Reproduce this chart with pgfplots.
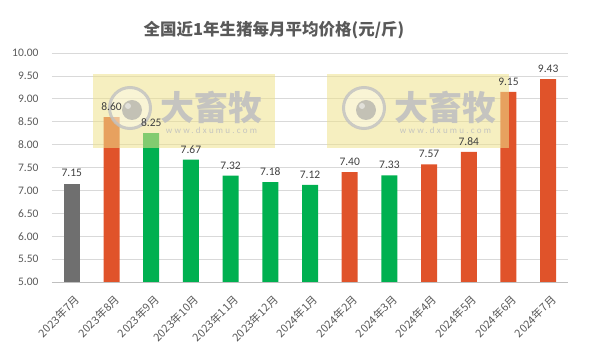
\documentclass[border=0pt]{standalone}
\usepackage{pgfplots}
\pgfplotsset{compat=1.18}
\usepackage{fontspec}
\setmainfont{Carlito}
\newfontfamily\cjk{Noto Sans CJK SC}
\definecolor{cgray}{HTML}{6F6F6F}
\definecolor{corange}{HTML}{E0532A}
\definecolor{cgreen}{HTML}{00B050}
\definecolor{txt}{HTML}{595959}
\definecolor{lbl}{HTML}{404040}
\definecolor{gridc}{HTML}{D9D9D9}
\definecolor{axc}{HTML}{BFBFBF}
\definecolor{wmbox}{RGB}{238,226,140}
\definecolor{wmtxt}{RGB}{192,192,192}
\definecolor{wmdot}{RGB}{160,160,160}
\newcommand{\wm}[2]{%
  \fill[wmbox, fill opacity=0.55] (#1pt,#2pt) rectangle ++(182pt,-74pt);
  \fill[white, opacity=0.35] ($(#1pt,#2pt)+(37pt,-34pt)$) circle (21pt);
  \draw[wmtxt, line width=3pt, opacity=0.8] ($(#1pt,#2pt)+(37pt,-34pt)$) circle (20.5pt);
  \fill[wmdot, opacity=0.6] ($(#1pt,#2pt)+(39pt,-36pt)$) circle (10pt);
  \fill[white, opacity=0.5] ($(#1pt,#2pt)+(35pt,-32pt)$) circle (3pt);
  \node[wmtxt, opacity=0.9, font=\cjk\bfseries\fontsize{34}{34}\selectfont] at ($(#1pt,#2pt)+(118.5pt,-33.5pt)$) {大畜牧};
  \node[wmtxt, opacity=0.9, font=\fontsize{9}{9}\selectfont\addfontfeatures{LetterSpace=25}] at ($(#1pt,#2pt)+(118.5pt,-56pt)$) {www.dxumu.com};
}
\usetikzlibrary{calc}
\pgfplotsset{common/.style={
  at={(0pt,0pt)}, anchor=south west,
  scale only axis, width=516pt, height=229pt,
  ymin=5, ymax=10, xmin=-0.5, xmax=12.5,
  ybar, bar width=16pt, clip=false,
  /pgf/number format/assume math mode=true,
}}
\begin{document}
\begin{tikzpicture}
\begin{axis}[
  common,
  ytick={5,5.5,...,10},
  xtick={0,...,12},
  xticklabels={2023年7月,2023年8月,2023年9月,2023年10月,2023年11月,2023年12月,2024年1月,2024年2月,2024年3月,2024年4月,2024年5月,2024年6月,2024年7月},
  xticklabel style={font=\cjk\fontsize{11}{11}\selectfont, color=txt, rotate=45, anchor=north east, inner sep=1pt, xshift=-3pt, yshift=-6pt},
  yticklabel style={font=\fontsize{11.5}{12}\selectfont, color=txt, xshift=-10pt,
    /pgf/number format/.cd, fixed, fixed zerofill, precision=2},
  axis x line*=bottom, axis y line*=left,
  y axis line style={draw=none},
  x axis line style={draw=axc, line width=0.8pt},
  xtick style={draw=none}, ytick style={draw=none},
  extra x ticks={-0.5,0.5,...,12.5},
  extra x tick labels={},
  extra x tick style={tick align=outside, major tick length=5pt, tick style={draw=axc, line width=0.8pt}, grid=none},
  ymajorgrids, grid style={draw=gridc, line width=0.8pt},
]
\addplot[fill=cgray, draw=none, bar shift=0pt] coordinates {(0,7.15)};
\addplot[fill=corange, draw=none, bar shift=0pt] coordinates {(1,8.60) (7,7.40) (9,7.57) (10,7.84) (11,9.15) (12,9.43)};
\addplot[fill=cgreen, draw=none, bar shift=0pt] coordinates {(2,8.25) (3,7.67) (4,7.32) (5,7.18) (6,7.12) (8,7.33)};
\end{axis}
\wm{41}{208}
\wm{275}{208}
\begin{axis}[
  common, hide axis,
  nodes near coords,
  every node near coord/.append style={font=\fontsize{11.5}{12}\selectfont, color=lbl, yshift=3pt,
    /pgf/number format/.cd, fixed, fixed zerofill, precision=2, assume math mode=true},
]
\addplot[fill=none, draw=none, bar shift=0pt] coordinates {(0,7.15) (1,8.60) (2,8.25) (3,7.67) (4,7.32) (5,7.18) (6,7.12) (7,7.40) (8,7.33) (9,7.57) (10,7.84) (11,9.15) (12,9.43)};
\end{axis}
\node[font=\cjk\bfseries\fontsize{16.5}{16.5}\selectfont, color=txt] at (222pt,252pt) {全国近1年生猪每月平均价格(元/斤)};
\pgfresetboundingbox
\useasboundingbox (-52pt,-66pt) rectangle (548pt,282pt);
\end{tikzpicture}
\end{document}
